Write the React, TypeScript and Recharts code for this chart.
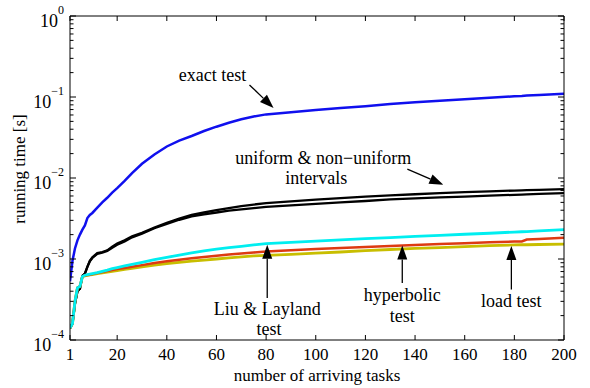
import React from "react";
import {
  LineChart,
  Line,
  XAxis,
  YAxis,
  ReferenceLine,
  ReferenceDot,
} from "recharts";

const tasks = [1, 2, 3, 4, 5, 6, 7, 8, 9, 10, 12, 14, 16, 18, 20, 23, 26, 30, 35, 40, 45, 50, 55, 60, 65, 70, 75, 80, 90, 100, 110, 120, 130, 140, 150, 160, 170, 180, 183, 185, 190, 200];

const exactTest = [5.3e-4, 9.5e-4, 1.35e-3, 1.7e-3, 2.0e-3, 2.3e-3, 2.6e-3, 3.2e-3, 3.5e-3, 3.7e-3, 4.3e-3, 5.0e-3, 5.7e-3, 6.6e-3, 7.5e-3, 9.2e-3, 1.15e-2, 1.5e-2, 1.95e-2, 2.45e-2, 2.9e-2, 3.3e-2, 3.8e-2, 4.3e-2, 4.8e-2, 5.3e-2, 5.75e-2, 6.1e-2, 6.5e-2, 6.9e-2, 7.3e-2, 7.7e-2, 8.2e-2, 8.6e-2, 9.0e-2, 9.4e-2, 9.8e-2, 0.102, 0.103, 0.104, 0.106, 0.11];

const uniformIntervals = [1.4e-4, 1.6e-4, 2.8e-4, 4.0e-4, 4.3e-4, 6.2e-4, 6.6e-4, 8.0e-4, 9.5e-4, 1.05e-3, 1.18e-3, 1.22e-3, 1.28e-3, 1.42e-3, 1.55e-3, 1.7e-3, 1.9e-3, 2.1e-3, 2.45e-3, 2.8e-3, 3.15e-3, 3.5e-3, 3.75e-3, 4.0e-3, 4.25e-3, 4.5e-3, 4.7e-3, 4.9e-3, 5.15e-3, 5.4e-3, 5.65e-3, 5.9e-3, 6.1e-3, 6.3e-3, 6.5e-3, 6.7e-3, 6.85e-3, 7.0e-3, 7.05e-3, 7.08e-3, 7.15e-3, 7.3e-3];

const nonUniformIntervals = [1.4e-4, 1.6e-4, 2.8e-4, 4.0e-4, 4.3e-4, 6.2e-4, 6.6e-4, 8.0e-4, 9.4e-4, 1.03e-3, 1.16e-3, 1.2e-3, 1.26e-3, 1.38e-3, 1.5e-3, 1.65e-3, 1.85e-3, 2.05e-3, 2.4e-3, 2.72e-3, 3.05e-3, 3.35e-3, 3.55e-3, 3.75e-3, 3.95e-3, 4.1e-3, 4.25e-3, 4.4e-3, 4.6e-3, 4.8e-3, 5.0e-3, 5.2e-3, 5.45e-3, 5.6e-3, 5.75e-3, 5.9e-3, 6.05e-3, 6.2e-3, 6.25e-3, 6.28e-3, 6.35e-3, 6.5e-3];

const liuLayland = [1.4e-4, 1.6e-4, 3.0e-4, 4.4e-4, 4.6e-4, 6.1e-4, 6.3e-4, 6.4e-4, 6.5e-4, 6.6e-4, 6.8e-4, 7.05e-4, 7.3e-4, 7.6e-4, 7.85e-4, 8.2e-4, 8.6e-4, 9.1e-4, 9.8e-4, 1.05e-3, 1.12e-3, 1.19e-3, 1.26e-3, 1.32e-3, 1.38e-3, 1.43e-3, 1.49e-3, 1.55e-3, 1.6e-3, 1.66e-3, 1.72e-3, 1.78e-3, 1.84e-3, 1.9e-3, 1.96e-3, 2.02e-3, 2.08e-3, 2.15e-3, 2.17e-3, 2.18e-3, 2.22e-3, 2.3e-3];

const hyperbolic = [1.4e-4, 1.6e-4, 3.0e-4, 4.4e-4, 4.6e-4, 6.1e-4, 6.3e-4, 6.35e-4, 6.4e-4, 6.5e-4, 6.7e-4, 6.9e-4, 7.1e-4, 7.3e-4, 7.5e-4, 7.75e-4, 8.0e-4, 8.4e-4, 8.9e-4, 9.4e-4, 9.8e-4, 1.02e-3, 1.06e-3, 1.1e-3, 1.14e-3, 1.17e-3, 1.2e-3, 1.24e-3, 1.28e-3, 1.33e-3, 1.37e-3, 1.41e-3, 1.45e-3, 1.49e-3, 1.53e-3, 1.57e-3, 1.61e-3, 1.64e-3, 1.65e-3, 1.74e-3, 1.77e-3, 1.83e-3];

const loadTest = [1.4e-4, 1.6e-4, 3.0e-4, 4.4e-4, 4.6e-4, 6.0e-4, 6.2e-4, 6.28e-4, 6.35e-4, 6.4e-4, 6.6e-4, 6.75e-4, 6.9e-4, 7.05e-4, 7.2e-4, 7.45e-4, 7.65e-4, 8.0e-4, 8.4e-4, 8.8e-4, 9.1e-4, 9.4e-4, 9.7e-4, 1.0e-3, 1.03e-3, 1.06e-3, 1.09e-3, 1.11e-3, 1.14e-3, 1.18e-3, 1.22e-3, 1.27e-3, 1.31e-3, 1.35e-3, 1.38e-3, 1.42e-3, 1.46e-3, 1.49e-3, 1.5e-3, 1.5e-3, 1.51e-3, 1.53e-3];

const xTicks = [1, 20, 40, 60, 80, 100, 120, 140, 160, 180, 200];
const yDecades = [-4, -3, -2, -1];

const yTicks: number[] = [];
yDecades.forEach((d) => {
  for (let m = 1; m <= 9; m++) yTicks.push(m * Math.pow(10, d));
});
yTicks.push(1);

const table = tasks.map((t, i) => ({
  tasks: t,
  exact: exactTest[i],
  uniform: uniformIntervals[i],
  nonuniform: nonUniformIntervals[i],
  liu: liuLayland[i],
  hyper: hyperbolic[i],
  load: loadTest[i],
}));

// annotations (data coordinates)
const arrows = [
  { from: { x: 73.3, y: 0.141 }, to: { x: 83, y: 0.073 } },
  { from: { x: 136.9, y: 0.0129 }, to: { x: 151.4, y: 0.00826 } },
  { from: { x: 80.45, y: 3.3e-4 }, to: { x: 80.45, y: 1.5e-3 } },
  { from: { x: 134.85, y: 5.07e-4 }, to: { x: 134.85, y: 1.47e-3 } },
  { from: { x: 178.8, y: 4.2e-4 }, to: { x: 178.8, y: 1.45e-3 } },
];

const labels = [
  { text: "exact test", x: 58.4, y: 0.188 },
  { text: "uniform & non\u2212uniform", x: 103, y: 0.0178 },
  { text: "intervals", x: 100.2, y: 0.0101 },
  { text: "Liu & Layland", x: 80.45, y: 2.38e-4 },
  { text: "test", x: 81.2, y: 1.37e-4 },
  { text: "hyperbolic", x: 134.85, y: 3.64e-4 },
  { text: "test", x: 134.85, y: 2.0e-4 },
  { text: "load test", x: 178.8, y: 3.07e-4 },
];

const FONT = '"Liberation Serif", serif';
const textStyle = (size: number) => ({ fontFamily: FONT, fontSize: size });

const isMajor = (v: number) => {
  const l = Math.log10(v);
  return Math.abs(l - Math.round(l)) < 1e-6;
};

const LeftTick = (props: any) => {
  const { x, y, payload } = props;
  const v = payload.value;
  const major = isMajor(v);
  const e = Math.round(Math.log10(v));
  const exp = e < 0 ? "\u2212" + String(-e) : String(e);
  return (
    <g>
      <line x1={x} y1={y} x2={x + (major ? 6 : 3.5)} y2={y} stroke="#000" strokeWidth={1} />
      {major && (
        <text x={x - 6} y={y + 11} textAnchor="end" style={textStyle(18)} fill="#000">
          <tspan>10</tspan>
          <tspan dy={-13} style={textStyle(12)}>{exp}</tspan>
        </text>
      )}
    </g>
  );
};

const RightTick = (props: any) => {
  const { x, y, payload } = props;
  const major = isMajor(payload.value);
  return <line x1={x} y1={y} x2={x - (major ? 6 : 3.5)} y2={y} stroke="#000" strokeWidth={1} />;
};

const BottomTick = (props: any) => {
  const { x, y, payload } = props;
  return (
    <g>
      <line x1={x} y1={y} x2={x} y2={y - 5} stroke="#000" strokeWidth={1} />
      <text x={x} y={y + 20} textAnchor="middle" style={textStyle(17)} fill="#000">
        {payload.value}
      </text>
    </g>
  );
};

const TopTick = (props: any) => {
  const { x, y } = props;
  return <line x1={x} y1={y} x2={x} y2={y + 5} stroke="#000" strokeWidth={1} />;
};

const ArrowShape = (props: any) => {
  const { x1, y1, x2, y2 } = props;
  const dx = x2 - x1;
  const dy = y2 - y1;
  const len = Math.sqrt(dx * dx + dy * dy) || 1;
  const ux = dx / len;
  const uy = dy / len;
  const hl = 14;
  const hw = 5;
  const bx = x2 - ux * hl;
  const by = y2 - uy * hl;
  const px = -uy;
  const py = ux;
  return (
    <g>
      <line x1={x1} y1={y1} x2={bx} y2={by} stroke="#000" strokeWidth={1.3} />
      <polygon
        points={`${x2},${y2} ${bx + px * hw},${by + py * hw} ${bx - px * hw},${by - py * hw}`}
        fill="#000"
      />
    </g>
  );
};

const makeLabelShape = (text: string) => (props: any) => (
  <text
    x={props.cx}
    y={props.cy}
    textAnchor="middle"
    dominantBaseline="central"
    style={textStyle(18)}
    fill="#000"
  >
    {text}
  </text>
);

export default function App() {
  return (
    <div style={{ position: "absolute", left: 0, top: 0, width: 590, height: 388, background: "#fff" }}>
      <LineChart width={590} height={388} data={table} margin={{ top: 0, right: 0, bottom: 0, left: 0 }}>
        <XAxis
          dataKey="tasks"
          type="number"
          domain={[1, 200]}
          allowDataOverflow
          ticks={xTicks}
          interval={0}
          height={48}
          tickSize={0}
          tickMargin={0}
          tickLine={false}
          tick={<BottomTick />}
          axisLine={{ stroke: "#000", strokeWidth: 1 }}
          label={(p: any) => {
            const vb = p.viewBox;
            return (
              <text
                x={vb.x + vb.width / 2}
                y={vb.y + vb.height - 7}
                textAnchor="middle"
                style={textStyle(17)}
                fill="#000"
              >
                number of arriving tasks
              </text>
            );
          }}
        />
        <XAxis
          xAxisId="top"
          orientation="top"
          dataKey="tasks"
          type="number"
          domain={[1, 200]}
          allowDataOverflow
          ticks={xTicks}
          interval={0}
          height={16}
          tickSize={0}
          tickMargin={0}
          tickLine={false}
          tick={<TopTick />}
          axisLine={{ stroke: "#000", strokeWidth: 1 }}
        />
        <YAxis
          type="number"
          scale="log"
          domain={[1e-4, 1]}
          allowDataOverflow
          ticks={yTicks}
          interval={0}
          width={70}
          tickSize={0}
          tickMargin={0}
          tickLine={false}
          tick={<LeftTick />}
          axisLine={{ stroke: "#000", strokeWidth: 1 }}
          label={(p: any) => {
            const vb = p.viewBox;
            const cx = vb.x + 25;
            const cy = vb.y + vb.height / 2 - 9;
            return (
              <text
                x={cx}
                y={cy}
                transform={`rotate(-90, ${cx}, ${cy})`}
                textAnchor="middle"
                style={textStyle(17)}
                fill="#000"
              >
                running time [s]
              </text>
            );
          }}
        />
        <YAxis
          yAxisId="right"
          orientation="right"
          type="number"
          scale="log"
          domain={[1e-4, 1]}
          allowDataOverflow
          ticks={yTicks}
          interval={0}
          width={26}
          tickSize={0}
          tickMargin={0}
          tickLine={false}
          tick={<RightTick />}
          axisLine={{ stroke: "#000", strokeWidth: 1 }}
        />
        <Line dataKey="uniform" stroke="#000" strokeWidth={2.3} dot={false} isAnimationActive={false} />
        <Line dataKey="nonuniform" stroke="#000" strokeWidth={2.3} dot={false} isAnimationActive={false} />
        <Line dataKey="load" stroke="#c8be00" strokeWidth={2.8} dot={false} isAnimationActive={false} />
        <Line dataKey="hyper" stroke="#dd3a12" strokeWidth={2.5} dot={false} isAnimationActive={false} />
        <Line dataKey="liu" stroke="#00eef0" strokeWidth={2.8} dot={false} isAnimationActive={false} />
        <Line dataKey="exact" stroke="#1010ee" strokeWidth={2.5} dot={false} isAnimationActive={false} />
        {arrows.map((a, i) => (
          <ReferenceLine
            key={"a" + i}
            segment={[a.from, a.to]}
            ifOverflow="visible"
            shape={ArrowShape}
          />
        ))}
        {labels.map((l, i) => (
          <ReferenceDot
            key={"l" + i}
            x={l.x}
            y={l.y}
            r={1}
            ifOverflow="visible"
            shape={makeLabelShape(l.text)}
          />
        ))}
      </LineChart>
    </div>
  );
}
